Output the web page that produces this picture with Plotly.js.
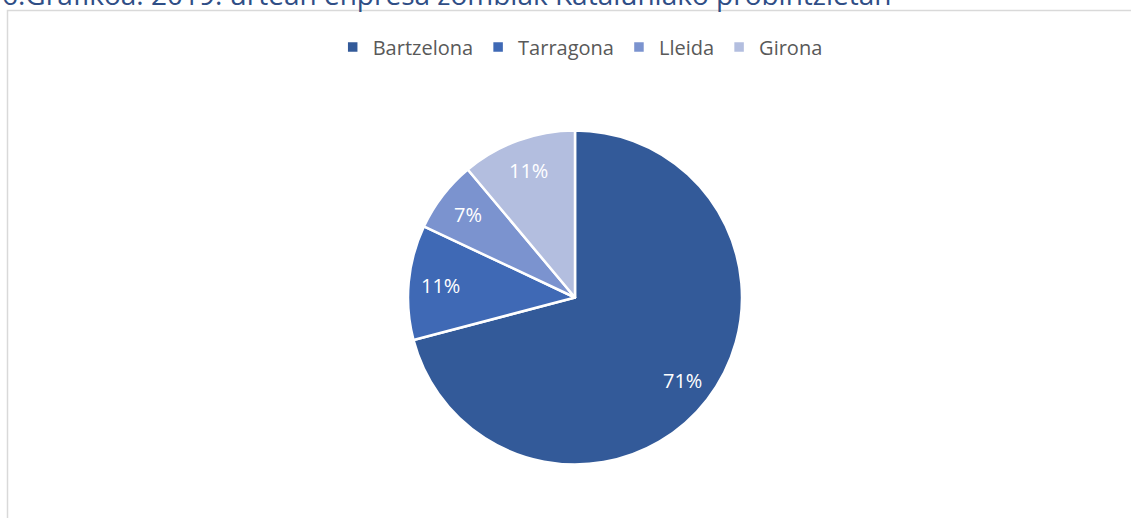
<!DOCTYPE html>
<html>
<head>
<meta charset="utf-8">
<script src="https://cdn.plot.ly/plotly-3.0.1.min.js"></script>
<style>html,body{margin:0;padding:0;background:#fff;}#chart{width:1131px;height:518px;}</style>
</head>
<body>
<div id="chart"></div>
<script>
const provinces = ["Bartzelona", "Tarragona", "Lleida", "Girona"];
const shares = [70.9, 11.1, 6.9, 11.1];
const sliceColors = ["#335A99", "#3F69B5", "#7B93CF", "#B3BEDF"];
const chartTitle = "6.Grafikoa: 2019. urtean enpresa zombiak Kataluniako probintzietan";

const W = 1131, H = 518;
const cx = 575, cy = 297.5, R = 167;
const FONT = "'Open Sans', 'Liberation Sans', sans-serif";

const trace = {
  type: "pie",
  labels: provinces,
  values: shares,
  sort: false,
  direction: "clockwise",
  rotation: 0,
  marker: {colors: sliceColors, line: {color: "#ffffff", width: 2.5}},
  textinfo: "none",
  hoverinfo: "label+percent",
  domain: {x: [(cx - R) / W, (cx + R) / W], y: [(H - cy - R) / H, (H - cy + R) / H]}
};

// percentage labels placed at ~0.81 of the radius along each slice's mid-angle
const total = shares.reduce((a, b) => a + b, 0);
const labelAnns = [];
let cum = 0;
shares.forEach((v, i) => {
  const mid = (cum + v / 2) / total * 2 * Math.PI;
  cum += v;
  const r = 0.81 * R;
  const px = cx + r * Math.sin(mid);
  const py = cy - r * Math.cos(mid);
  labelAnns.push({
    text: Math.round(v / total * 100) + "%",
    xref: "paper", yref: "paper", x: px / W, y: 1 - py / H,
    xanchor: "center", yanchor: "middle", showarrow: false,
    font: {family: FONT, size: 20, color: "#ffffff"}
  });
});

const layout = {
  width: W, height: H,
  margin: {l: 0, r: 0, t: 0, b: 0},
  paper_bgcolor: "#ffffff",
  showlegend: true,
  legend: {
    orientation: "h", x: 0.513, xanchor: "center", y: 1 - 47 / H, yanchor: "middle",
    font: {family: FONT, size: 20, color: "#595959"},
    itemwidth: 30, traceorder: "normal"
  },
  shapes: [{
    type: "rect", xref: "paper", yref: "paper",
    x0: 7.5 / W, x1: 1.02, y0: -0.02, y1: 1 - 10.5 / H,
    line: {color: "#d9d9d9", width: 1.5}, fillcolor: "rgba(0,0,0,0)", layer: "below"
  }],
  annotations: [{
    text: chartTitle, xref: "paper", yref: "paper",
    x: 0, xanchor: "left", y: 1 + 6 / H, yanchor: "middle", showarrow: false,
    font: {family: FONT, size: 28, color: "#2F4E86"}
  }].concat(labelAnns)
};

Plotly.newPlot("chart", [trace], layout, {displayModeBar: false, staticPlot: true});
</script>
</body>
</html>
